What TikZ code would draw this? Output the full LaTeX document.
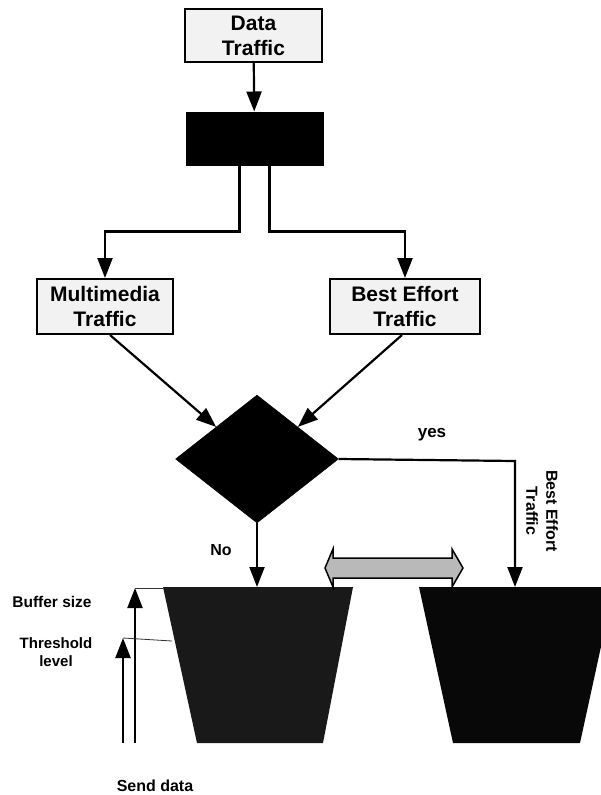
\documentclass[tikz,border=0pt]{standalone}
\usepackage{fontspec}
\setmainfont{Liberation Sans}
\usetikzlibrary{arrows.meta,shapes.geometric}
\tikzset{
  tbox/.style={draw=black,line width=2pt,fill=gray!10,inner sep=0pt,align=center,
    font=\fontsize{21}{25}\selectfont\bfseries},
  arr/.style={line width=2.2pt,-{Triangle[length=20pt,width=15pt]}},
  conn/.style={line width=2pt},
  thin/.style={line width=0.8pt,black!80},
  lbl/.style={font=\fontsize{#1}{#1}\selectfont\bfseries,inner sep=0pt,align=center},
  lbl/.default=15
}
\begin{document}
\begin{tikzpicture}[x=1pt,y=-1pt]
\clip (0,0) rectangle (601,795);
\fill[white] (0,0) rectangle (601,795);
% boxes
\node[tbox,minimum width=137pt,minimum height=53pt] (dt) at (253.5,35.5) {Data\\Traffic};
\node[draw=black,fill=black,line width=1pt,minimum width=137pt,minimum height=53pt,inner sep=0pt] (bb) at (254.5,138.5) {};
\node[tbox,minimum width=136pt,minimum height=55pt] (mm) at (105,306.5) {Multimedia\\Traffic};
\node[tbox,minimum width=150pt,minimum height=55pt] (be) at (405,306.5) {Best Effort\\Traffic};
\node[diamond,fill=black,draw=black,minimum width=163pt,minimum height=128pt,inner sep=0pt] (dia) at (257,459) {};
% connectors
\draw[arr] (dt) -- (bb);
\draw[conn,arr] ([xshift=-15pt]bb.south) -- ++(0,66) -| (mm.north);
\draw[conn,arr] ([xshift=15pt]bb.south) -- ++(0,66) -| (be.north);
\draw[arr] ([xshift=5pt]mm.south) -- (dia.north west);
\draw[arr] ([xshift=-3pt]be.south) -- (dia.north east);
% buckets
\coordinate (lbt) at (257,587);
\coordinate (rbt) at (515,587);
\fill[black!90] (163,587) -- (353,587) -- (323,743) -- (197,743) -- cycle;
\fill[black!97] (419,587) -- (614,587) -- (580,743) -- (453,743) -- cycle;
\draw[arr] (dia.south) -- (lbt);
\draw[conn,arr] (dia.east) -- (515,461) -- (rbt);
% double arrow
\draw[line width=1.5pt,fill=gray!55] (325,568) -- (333,549) -- (333,558) -- (452,558) -- (452,549) -- (463,568) -- (452,587) -- (452,578) -- (333,578) -- (333,587) -- cycle;
% labels
\node[lbl=17] (yes) at (432,435) {yes};
\node[lbl=16] (no) at (221,550) {No};
\node[rotate=-90,inner sep=0pt,align=center,font=\fontsize{16}{20}\selectfont\bfseries] (bet) at (542,511) {Best Effort\\Traffic};
% left gauges
\coordinate (g1b) at (135,743);
\coordinate (g1t) at (135,588);
\coordinate (g2b) at (123,743);
\coordinate (g2t) at (123,638);
\draw[arr] (g1b) -- (g1t);
\draw[arr] (g2b) -- (g2t);
\draw[thin] (g1t) -- (163,588);
\draw[thin] (g2t) -- (172,641);
\node[lbl=15.5] (bs) at (52,602) {Buffer size};
\node[inner sep=0pt,align=center,font=\fontsize{15}{18}\selectfont\bfseries] (th) at (56,652) {Threshold\\level};
\node[lbl=16] (sd) at (155,786) {Send data};
\end{tikzpicture}
\end{document}
